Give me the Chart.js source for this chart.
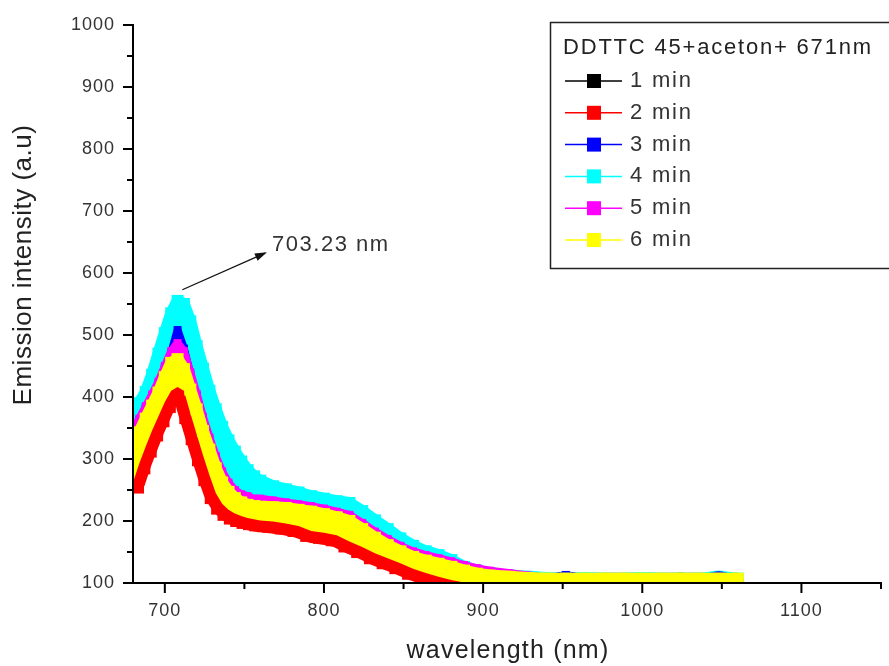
<!DOCTYPE html>
<html>
<head>
<meta charset="utf-8">
<script src="https://cdn.jsdelivr.net/npm/chart.js@4.4.1/dist/chart.umd.min.js"></script>
<style>
html,body{margin:0;padding:0;background:#fff;}
canvas{display:block;}
</style>
</head>
<body>
<canvas id="c" width="889" height="666"></canvas>
<script>
// ---------- data ----------
const wavelengths = [
  680,684,688,692,696,700,704,708,712,716,720,724,728,732,736,740,744,748,752,756,760,
  768,776,784,792,800,808,816,824,832,840,848,856,864,872,880,888,896,904,
  916,928,940,952,964,976,988,1000,1012,1024,1036,1048,1060
];
const min1 = [ // 1 min (black)
  335,354,375,395,416,441,464,472,458,420,388,352,320,292,268,252,242,235,231,229,228,
  227,226,223,220,216,211,205,192,178,166,156,147,141,136,131,125,120,116,
  113,109,108,108,111,107,107,109,107,110,107,107,107
];
const min2 = [ // 2 min (red)
  262,293,320,346,369,392,410,416,410,374,340,306,274,245,228,218,212,208,205,203,201,
  199,196,192,184,181,177,167,158,148,140,132,123,116,110,105,101,99,97,
  97,97,97,97,97,97,97,97,97,97,97,97,97
];
const min3 = [ // 3 min (blue)
  346,362,382,401,422,447,471,508,478,437,402,365,332,302,277,259,247,240,237,234,234,
  231,228,225,222,218,213,208,195,181,169,158,149,143,138,133,127,122,118,
  112,108,107,113,107,107,107,107,107,107,107,112,107
];
const min4 = [ // 4 min (cyan)
  372,390,408,436,470,503,535,555,550,522,482,446,410,380,352,330,312,296,282,272,265,
  256,251,246,240,236,232,229,216,201,187,172,160,151,145,137,126,120,116,
  112,110,108,107,108,107,107,108,107,107,107,110,107
];
const min5 = [ // 5 min (magenta)
  348,365,385,404,425,450,474,487,474,440,405,368,335,305,280,262,250,243,240,236,236,
  233,230,227,224,220,215,210,197,183,171,160,151,145,140,135,129,124,120,
  116,112,108,107,107,109,107,107,107,107,107,107,107
];
const min6 = [ // 6 min (yellow)
  322,343,365,386,407,432,455,461,445,412,380,345,315,285,262,247,237,230,226,224,223,
  222,221,218,215,211,206,200,187,173,161,151,142,136,131,126,120,115,112,
  110,108,107,107,107,107,107,107,107,107,107,107,107
];
const seriesLabels = ['1 min','2 min','3 min','4 min','5 min','6 min'];
const legendTitle = 'DDTTC 45+aceton+ 671nm';
const xTickLabels = [700,800,900,1000,1100];
const yTickLabels = [100,200,300,400,500,600,700,800,900,1000];
const xTitle = 'wavelength (nm)';
const yTitle = 'Emission intensity (a.u)';
const peakNote = { text: '703.23 nm', from: [711, 573], to: [763, 632] };

// ---------- styling ----------
const FONT = "'Liberation Sans', Arial, sans-serif";
const colors = ['#000000','#ff0000','#0000ff','#00ffff','#ff00ff','#ffff00'];
const widths = [8, 24, 8, 12, 8, 12];
const markerSides = [8, 22, 8, 12, 8, 12];
const drawOrder = [6, 5, 3, 4, 2, 1];          // larger = drawn earlier (below)
const fillTo = [false, false, false, 4, 5, 1]; // band fill to neighbouring series
const series = [min1, min2, min3, min4, min5, min6];
const lastIndex = wavelengths.length - 1;

const datasets = series.map((vals, i) => ({
  label: seriesLabels[i],
  data: wavelengths.map((w, j) => ({ x: w, y: vals[j] })),
  borderColor: colors[i],
  backgroundColor: colors[i],
  borderWidth: widths[i],
  borderJoinStyle: 'bevel',
  borderCapStyle: 'butt',
  pointStyle: 'rect',
  pointRadius: c => (c.dataIndex === lastIndex ? Math.min(markerSides[i], 12) : markerSides[i]) / Math.SQRT2,
  pointBorderWidth: 0,
  pointBackgroundColor: colors[i],
  fill: fillTo[i] === false ? false : { target: fillTo[i], above: colors[i], below: colors[i] },
  order: drawOrder[i],
  clip: 0,
  tension: 0
}));

const decor = {
  id: 'decor',
  beforeDraw(chart) { chart.ctx.letterSpacing = '1px'; },
  afterDatasetsDraw(chart) {
    const ctx = chart.ctx, a = chart.chartArea;
    const xs = chart.scales.x, ys = chart.scales.y;
    ctx.save();
    ctx.strokeStyle = '#000';
    ctx.lineWidth = 2;
    ctx.beginPath();
    ctx.moveTo(a.left, a.top - 1); ctx.lineTo(a.left, a.bottom);
    ctx.moveTo(a.left - 1, a.bottom); ctx.lineTo(a.right + 1, a.bottom);
    ctx.stroke();
    ctx.beginPath();
    xs.ticks.forEach(t => {
      if (t.value % 50 !== 0) return;
      const p = xs.getPixelForValue(t.value);
      const len = xTickLabels.includes(t.value) ? 10 : 6;
      ctx.moveTo(p, a.bottom); ctx.lineTo(p, a.bottom + len);
    });
    ys.ticks.forEach(t => {
      if (t.value % 50 !== 0) return;
      const p = ys.getPixelForValue(t.value);
      const len = yTickLabels.includes(t.value) ? 10 : 6;
      ctx.moveTo(a.left, p); ctx.lineTo(a.left - len, p);
    });
    ctx.stroke();
    ctx.restore();
  },
  afterDraw(chart) {
    const ctx = chart.ctx;
    const xs = chart.scales.x, ys = chart.scales.y;
    ctx.save();
    // axis titles
    ctx.fillStyle = '#222';
    ctx.letterSpacing = '0.5px';
    ctx.font = '26px ' + FONT;
    ctx.textAlign = 'center';
    ctx.textBaseline = 'middle';
    ctx.save();
    ctx.translate(24, 265);
    ctx.rotate(-Math.PI / 2);
    ctx.fillText(yTitle, 0, 0);
    ctx.restore();
    ctx.letterSpacing = '1.2px';
    ctx.font = '25px ' + FONT;
    ctx.fillText(xTitle, 508, 651);

    // peak annotation
    const x1 = xs.getPixelForValue(peakNote.from[0]), y1 = ys.getPixelForValue(peakNote.from[1]);
    const x2 = xs.getPixelForValue(peakNote.to[0]), y2 = ys.getPixelForValue(peakNote.to[1]);
    ctx.strokeStyle = '#111'; ctx.fillStyle = '#111'; ctx.lineWidth = 1.3;
    ctx.beginPath(); ctx.moveTo(x1, y1); ctx.lineTo(x2, y2); ctx.stroke();
    const ang = Math.atan2(y2 - y1, x2 - x1);
    ctx.beginPath();
    ctx.moveTo(x2 + 2 * Math.cos(ang), y2 + 2 * Math.sin(ang));
    ctx.lineTo(x2 - 10 * Math.cos(ang) + 4 * Math.sin(ang), y2 - 10 * Math.sin(ang) - 4 * Math.cos(ang));
    ctx.lineTo(x2 - 10 * Math.cos(ang) - 4 * Math.sin(ang), y2 - 10 * Math.sin(ang) + 4 * Math.cos(ang));
    ctx.closePath(); ctx.fill();
    ctx.fillStyle = '#333';
    ctx.letterSpacing = '1.5px';
    ctx.font = '22px ' + FONT;
    ctx.textAlign = 'left';
    ctx.fillText(peakNote.text, x2 + 7, y2 - 8);

    // legend box (runs off the right edge as in the reference)
    ctx.fillStyle = '#fff';
    ctx.fillRect(550, 22, 360, 246);
    ctx.strokeStyle = '#222'; ctx.lineWidth = 1.5;
    ctx.strokeRect(550.5, 22.5, 360, 246);
    ctx.fillStyle = '#222';
    ctx.letterSpacing = '1.8px';
    ctx.font = '22px ' + FONT;
    ctx.textBaseline = 'middle';
    ctx.fillText(legendTitle, 563, 48);
    chart.data.datasets.forEach((ds, i) => {
      const yy = 81 + i * 31.8;
      ctx.strokeStyle = ds.borderColor; ctx.lineWidth = 1.5;
      ctx.beginPath(); ctx.moveTo(565, yy); ctx.lineTo(622, yy); ctx.stroke();
      ctx.fillStyle = ds.borderColor;
      ctx.fillRect(587, yy - 7, 14, 14);
      ctx.fillStyle = '#333';
      ctx.fillText(ds.label, 630, yy);
    });
    ctx.restore();
  }
};

new Chart(document.getElementById('c'), {
  type: 'line',
  data: { datasets },
  options: {
    responsive: false,
    animation: false,
    devicePixelRatio: 1,
    events: [],
    layout: { autoPadding: false, padding: { left: 0, right: 8, top: 25, bottom: 0 } },
    plugins: { legend: { display: false }, tooltip: { enabled: false } },
    scales: {
      x: {
        type: 'linear', min: 680, max: 1150,
        grid: { display: false, drawTicks: false },
        border: { display: false },
        ticks: {
          stepSize: 50, includeBounds: false, autoSkip: false, maxRotation: 0, padding: 17,
          color: '#333', font: { size: 18, family: FONT },
          callback: v => xTickLabels.includes(v) ? String(v) : ''
        },
        afterFit: s => { s.height = 83; s.paddingLeft = 0; s.paddingRight = 0; }
      },
      y: {
        type: 'linear', min: 100, max: 1000,
        grid: { display: false, drawTicks: false },
        border: { display: false },
        ticks: {
          stepSize: 50, autoSkip: false, padding: 18,
          color: '#333', font: { size: 18, family: FONT },
          callback: v => yTickLabels.includes(v) ? String(v) : ''
        },
        afterFit: s => { s.width = 133; s.paddingTop = 0; s.paddingBottom = 0; }
      }
    }
  },
  plugins: [decor]
});
</script>
</body>
</html>
